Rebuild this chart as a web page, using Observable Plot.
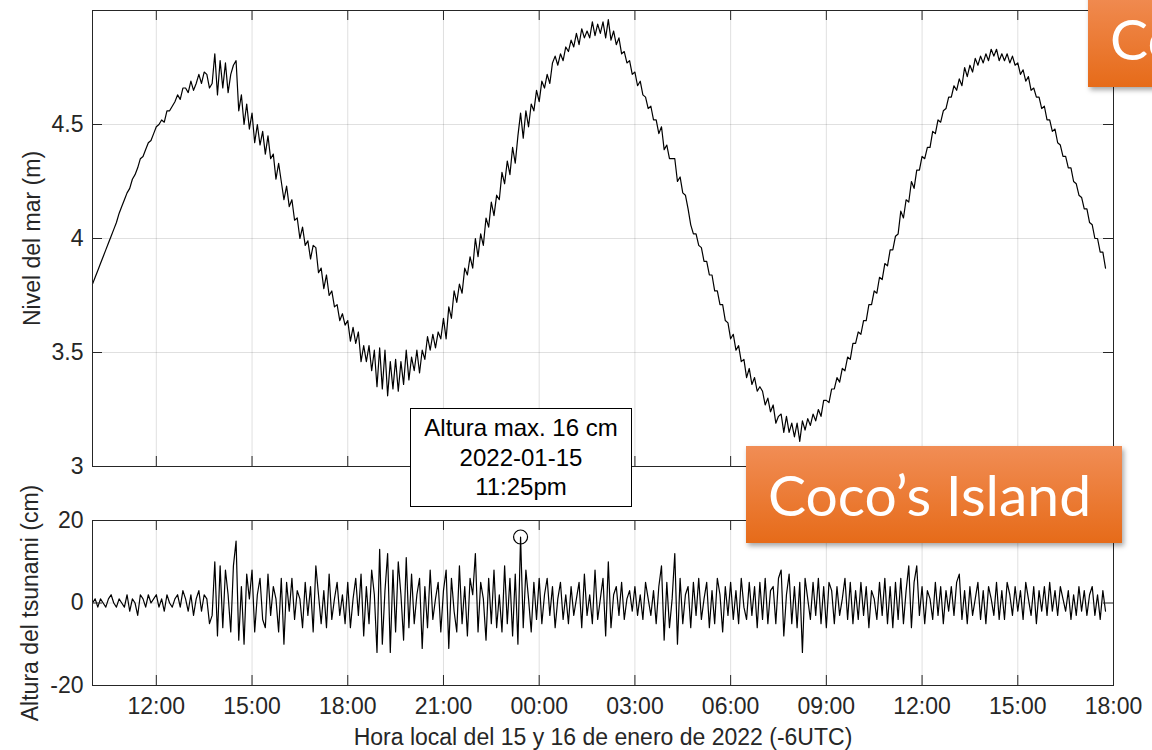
<!DOCTYPE html>
<html><head><meta charset="utf-8">
<script src="https://cdn.jsdelivr.net/npm/d3@7"></script>
<script src="https://cdn.jsdelivr.net/npm/@observablehq/plot@0.6"></script>
<style>
body{margin:0;background:#fff;}
#wrap{position:relative;width:1152px;height:750px;overflow:hidden;font-family:"Liberation Sans",Arial,Helvetica,sans-serif;}
#top,#bottom{position:absolute;left:0;}
#top{top:0;} #bottom{top:490px;}
#top svg,#bottom svg{display:block;}
.note{position:absolute;left:410px;top:408px;width:222px;height:99px;box-sizing:border-box;border:1.3px solid #000;background:#fff;text-align:center;font-size:24px;line-height:29.5px;padding-top:4px;color:#000;}
.tag{position:absolute;width:376px;height:97px;box-sizing:border-box;padding-left:22px;background:linear-gradient(#f18d55,#e66b19);color:#fff;font-family:Lato,"Open Sans",sans-serif;font-size:57px;line-height:97px;box-shadow:2px 3px 5px rgba(0,0,0,0.35);white-space:nowrap;}
</style></head>
<body>
<div id="wrap">
  <div id="top"></div>
  <div id="bottom"></div>
</div>
<script>
// ---- data ----
const startTime = "2022-01-15T10:00:00Z";
const stepMinutes = 5;
const xDomain = ["2022-01-15T10:00:00Z", "2022-01-16T18:00:00Z"];
const xTickTimes = ["2022-01-15T12:00:00Z","2022-01-15T15:00:00Z","2022-01-15T18:00:00Z","2022-01-15T21:00:00Z",
  "2022-01-16T00:00:00Z","2022-01-16T03:00:00Z","2022-01-16T06:00:00Z","2022-01-16T09:00:00Z",
  "2022-01-16T12:00:00Z","2022-01-16T15:00:00Z","2022-01-16T18:00:00Z"];
const xTickLabels = ["12:00","15:00","18:00","21:00","00:00","03:00","06:00","09:00","12:00","15:00","18:00"];
const seaTicks = [3, 3.5, 4, 4.5];
const seaTickLabels = ["3","3.5","4","4.5"];
const tsuTicks = [-20, 0, 20];
const tsuTickLabels = ["-20","0","20"];
const xLabel = "Hora local del 15 y 16 de enero de 2022 (-6UTC)";
const seaLabel = "Nivel del mar (m)";
const tsuLabel = "Altura del tsunami (cm)";
const noteLines = ["Altura max. 16 cm", "2022-01-15", "11:25pm"];
const maxPoint = {time: "2022-01-15T23:25:00Z", value: 16};
const tagLabels = ["Coco’s Island", "Coco’s Island"];

// sea level (m), every 5 minutes from 10:00 on Jan 15
const seaLevel = [
 3.80,3.83,3.86,3.89,3.92,3.95,3.98,4.01,4.04,4.07,4.11,4.14,
 4.17,4.20,4.22,4.26,4.28,4.31,4.35,4.36,4.39,4.42,4.43,4.46,
 4.49,4.50,4.52,4.51,4.56,4.56,4.58,4.60,4.63,4.61,4.66,4.66,
 4.64,4.69,4.65,4.68,4.72,4.68,4.73,4.72,4.66,4.68,4.81,4.63,
 4.78,4.66,4.77,4.64,4.72,4.76,4.78,4.56,4.63,4.50,4.59,4.48,
 4.55,4.42,4.50,4.41,4.47,4.37,4.45,4.35,4.37,4.26,4.33,4.25,
 4.17,4.23,4.14,4.17,4.08,4.09,4.00,4.05,3.97,3.99,3.91,3.97,
 3.96,3.85,3.87,3.78,3.84,3.75,3.77,3.70,3.71,3.64,3.67,3.62,
 3.64,3.55,3.61,3.54,3.59,3.46,3.53,3.46,3.53,3.42,3.51,3.35,
 3.52,3.34,3.51,3.31,3.46,3.34,3.47,3.33,3.46,3.36,3.51,3.38,
 3.48,3.42,3.51,3.41,3.51,3.47,3.57,3.51,3.58,3.52,3.59,3.56,
 3.65,3.56,3.70,3.65,3.77,3.72,3.80,3.76,3.87,3.84,3.92,3.87,
 4.00,3.92,4.02,3.97,4.09,4.05,4.16,4.10,4.19,4.17,4.29,4.24,
 4.34,4.28,4.40,4.33,4.45,4.55,4.44,4.56,4.49,4.59,4.56,4.65,
 4.60,4.69,4.66,4.72,4.68,4.77,4.80,4.76,4.81,4.78,4.84,4.82,
 4.87,4.84,4.90,4.85,4.92,4.88,4.91,4.88,4.95,4.89,4.94,4.90,
 4.95,4.88,4.96,4.87,4.91,4.85,4.88,4.81,4.82,4.77,4.78,4.72,
 4.73,4.67,4.69,4.63,4.62,4.57,4.58,4.52,4.52,4.46,4.49,4.39,
 4.41,4.35,4.35,4.35,4.25,4.27,4.20,4.19,4.13,4.06,4.02,4.02,
 3.97,3.96,3.90,3.90,3.84,3.84,3.77,3.77,3.71,3.71,3.64,3.63,
 3.56,3.58,3.51,3.53,3.46,3.47,3.39,3.43,3.36,3.39,3.33,3.35,
 3.33,3.27,3.30,3.24,3.27,3.19,3.22,3.23,3.15,3.22,3.15,3.19,
 3.13,3.19,3.11,3.20,3.16,3.21,3.18,3.23,3.20,3.25,3.22,3.29,
 3.29,3.28,3.34,3.34,3.39,3.37,3.43,3.42,3.48,3.47,3.54,3.54,
 3.59,3.58,3.64,3.64,3.71,3.71,3.77,3.76,3.83,3.82,3.89,3.88,
 3.95,3.95,4.01,4.02,4.12,4.09,4.17,4.16,4.25,4.22,4.30,4.30,
 4.36,4.35,4.40,4.40,4.47,4.46,4.52,4.51,4.56,4.57,4.62,4.62,
 4.67,4.65,4.70,4.67,4.75,4.71,4.76,4.73,4.79,4.76,4.80,4.77,
 4.81,4.78,4.83,4.80,4.83,4.78,4.81,4.78,4.81,4.77,4.80,4.76,
 4.77,4.72,4.74,4.69,4.71,4.65,4.66,4.62,4.62,4.57,4.58,4.52,
 4.52,4.47,4.48,4.42,4.41,4.36,4.36,4.31,4.31,4.25,4.24,4.19,
 4.18,4.13,4.13,4.07,4.06,4.00,4.00,3.94,3.94,3.87
];

// tsunami residual (cm), every 5 minutes from 10:00 on Jan 15
const tsunami = [
 0,1,-1,1,0,-1,1,2,0,-1,1,0,
 -1,2,-2,1,0,-3,2,1,-1,2,0,1,
 2,-1,1,-2,2,0,-1,1,2,-1,3,1,
 -2,2,-3,1,3,-2,2,1,-5,-3,10,-8,
 9,-6,8,2,-7,9,15,-9,4,-10,7,1,
 8,-7,2,6,-4,-6,7,-3,4,1,-7,6,
 -10,5,-2,6,-4,3,1,-6,5,-3,4,-7,
 9,2,-5,3,-6,7,-4,1,5,-3,2,-5,
 5,-6,1,6,-3,7,-8,4,-5,8,2,-12,
 13,-10,3,12,-12,8,-7,10,2,-9,11,-6,
 7,-5,2,6,-11,4,-6,8,-4,1,5,-7,
 3,8,-11,6,-2,-7,9,-5,4,-8,6,2,
 12,-7,5,1,-9,6,-5,8,-6,2,-7,9,
 -5,6,-8,7,-10,16,-6,8,1,-7,5,-4,
 6,-5,2,6,-3,4,-6,1,5,-4,2,-5,
 4,-3,1,5,-6,7,-3,2,-5,8,-4,1,
 6,-8,10,-6,2,4,-3,5,-4,1,3,-2,
 4,-3,2,-4,5,1,-3,3,-5,4,9,-9,
 5,-6,1,12,-10,6,-5,2,4,-6,5,-3,
 6,-4,1,5,-6,3,-5,6,2,-7,4,-3,
 5,-4,3,-5,6,-1,-4,5,-3,4,-6,5,
 -4,6,-5,3,4,-5,6,8,-8,2,7,-5,
 4,-6,5,-12,6,1,-4,5,-3,6,-5,4,
 -6,5,3,-5,4,-3,1,6,-4,5,-5,3,
 -4,5,-3,4,-6,3,1,-4,5,-3,6,-5,
 4,-6,5,-4,6,-5,3,9,-6,5,9,-3,
 4,-5,3,1,-4,5,-3,4,-5,3,-2,4,
 -3,5,7,-4,3,-5,4,-3,1,5,-4,3,
 -5,4,1,-3,5,-4,3,-4,5,2,-3,4,
 -2,3,-4,5,1,-3,4,-5,3,-2,4,-3,
 5,-2,3,-3,4,1,-2,3,-4,2,-3,4,
 -2,3,-3,2,4,-3,2,-4,3,-2
];

// ---- build ----
const t0 = new Date(startTime).getTime();
const timeAt = i => new Date(t0 + i * stepMinutes * 60000);
const seaData = seaLevel.map((v, i) => ({t: timeAt(i), v}));
const tsuData = tsunami.map((v, i) => ({t: timeAt(i), v}));
const xTicks = xTickTimes.map(s => new Date(s));
const xFmt = d => xTickLabels[xTicks.findIndex(t => +t === +d)];
const dom = xDomain.map(s => new Date(s));

const W = 1152, ML = 92, MR = 39;
const PW = W - ML - MR;
const TK = 10; // tick length
const axisColor = "#262626";
const gridColor = "#262626";
const font = "'Liberation Sans', Arial, Helvetica, sans-serif";

function inwardTicks(yTicks, plotH) {
  return [
    Plot.tickX(xTicks, {x: d => d, insetTop: plotH - TK, stroke: axisColor}),
    Plot.tickX(xTicks, {x: d => d, insetBottom: plotH - TK, stroke: axisColor}),
    Plot.tickY(yTicks, {y: d => d, insetRight: PW - TK, stroke: axisColor}),
    Plot.tickY(yTicks, {y: d => d, insetLeft: PW - TK, stroke: axisColor})
  ];
}

// top panel
const topH = 490, topMT = 10, topMB = 24;
const topPlot = Plot.plot({
  width: W, height: topH,
  marginLeft: ML, marginRight: MR, marginTop: topMT, marginBottom: topMB,
  style: {fontFamily: font, color: axisColor, background: "transparent"},
  x: {type: "utc", domain: dom, axis: null},
  y: {domain: [3, 5]},
  marks: [
    Plot.gridX(xTicks, {stroke: gridColor, strokeOpacity: 0.14}),
    Plot.gridY(seaTicks, {stroke: gridColor, strokeOpacity: 0.14}),
    Plot.line(seaData, {x: "t", y: "v", stroke: "#000", strokeWidth: 1.2}),
    Plot.frame({stroke: axisColor, strokeWidth: 1}),
    ...inwardTicks(seaTicks, topH - topMT - topMB),
    Plot.axisY(seaTicks, {tickSize: 0, tickPadding: 9, fontSize: 23, label: null,
      tickFormat: d => seaTickLabels[seaTicks.indexOf(d)]}),
    Plot.text([seaLabel], {frameAnchor: "left", rotate: -90, dx: -60, fontSize: 23,
      textAnchor: "middle", lineAnchor: "middle", fill: axisColor})
  ]
});
document.getElementById("top").appendChild(topPlot);

// bottom panel
const botH = 260, botMT = 30, botMB = 65;
const botPlot = Plot.plot({
  width: W, height: botH,
  marginLeft: ML, marginRight: MR, marginTop: botMT, marginBottom: botMB,
  style: {fontFamily: font, color: axisColor, background: "transparent", overflow: "visible"},
  x: {type: "utc", domain: dom},
  y: {domain: [-20, 20]},
  marks: [
    Plot.gridX(xTicks, {stroke: gridColor, strokeOpacity: 0.14}),
    Plot.gridY([0], {stroke: gridColor, strokeOpacity: 0.14}),
    Plot.line(tsuData, {x: "t", y: "v", stroke: "#000", strokeWidth: 1.2}),
    Plot.dot([maxPoint], {x: d => new Date(d.time), y: "value", r: 7, stroke: "#000", fill: "none", strokeWidth: 1.2}),
    Plot.frame({stroke: axisColor, strokeWidth: 1}),
    ...inwardTicks(tsuTicks, botH - botMT - botMB),
    Plot.axisY(tsuTicks, {tickSize: 0, tickPadding: 9, fontSize: 23, label: null,
      tickFormat: d => tsuTickLabels[tsuTicks.indexOf(d)]}),
    Plot.axisX(xTicks, {tickSize: 0, tickPadding: 12, fontSize: 23, label: null, tickFormat: xFmt}),
    Plot.text([tsuLabel], {frameAnchor: "left", rotate: -90, dx: -62, fontSize: 23,
      textAnchor: "middle", lineAnchor: "middle", fill: axisColor}),
    Plot.text([xLabel], {frameAnchor: "bottom", dy: 52, fontSize: 23,
      textAnchor: "middle", lineAnchor: "middle", fill: axisColor})
  ]
});
document.getElementById("bottom").appendChild(botPlot);

// annotation box
const wrap = document.getElementById("wrap");
const note = document.createElement("div");
note.className = "note";
note.innerHTML = noteLines.map(s => `<div>${s}</div>`).join("");
wrap.appendChild(note);

// orange tags
const tagPos = [{left: 746, top: 446}, {left: 1088, top: -10}];
tagLabels.forEach((s, i) => {
  const tag = document.createElement("div");
  tag.className = "tag";
  tag.style.left = tagPos[i].left + "px";
  tag.style.top = tagPos[i].top + "px";
  tag.textContent = s;
  wrap.appendChild(tag);
});
</script>
</body></html>
